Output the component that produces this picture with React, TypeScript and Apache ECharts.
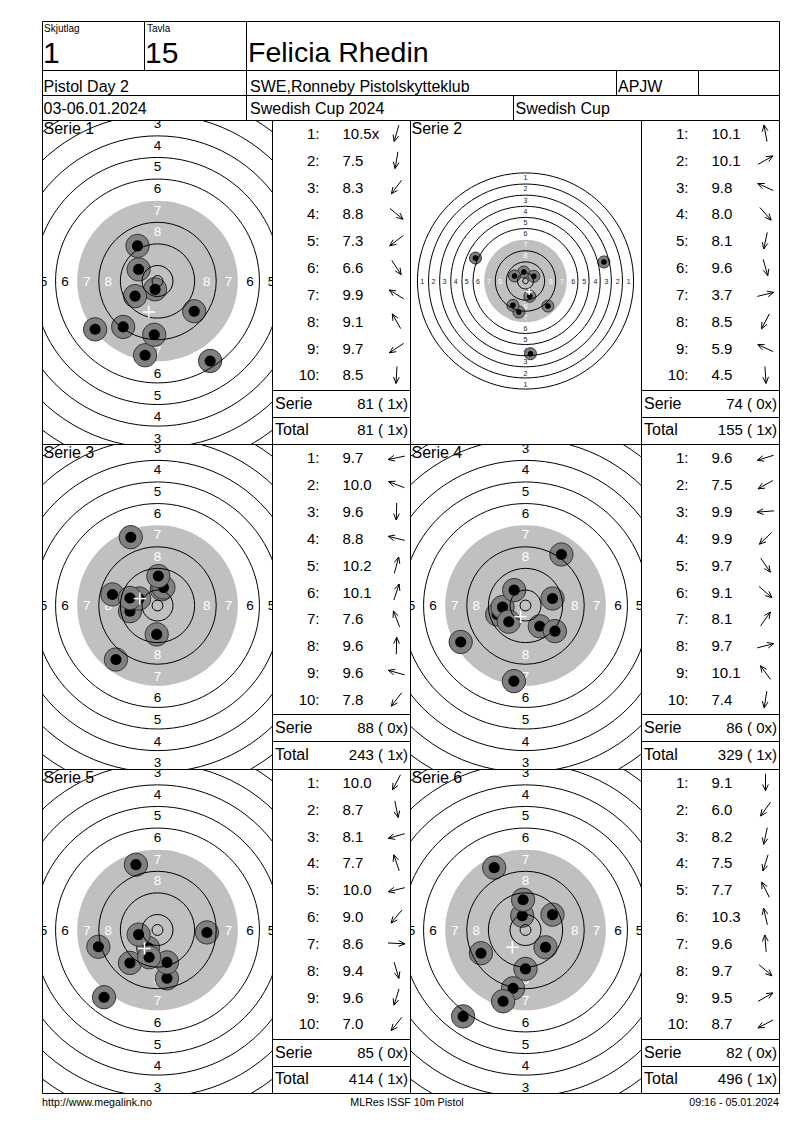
import React, { useEffect, useRef } from "react";
import * as echarts from "echarts";

const FONT = '"Liberation Sans", Arial, sans-serif';

// ---------- header texts ----------
const SQUAD_LABEL = "Skjutlag";
const SQUAD = "1";
const TARGET_LABEL = "Tavla";
const TARGET_NO = "15";
const SHOOTER = "Felicia Rhedin";
const EVENT = "Pistol Day 2";
const CLUB = "SWE,Ronneby Pistolskytteklub";
const CLASS_CODE = "APJW";
const DATES = "03-06.01.2024";
const COMPETITION = "Swedish Cup 2024";
const CUP = "Swedish Cup";
const FOOTER_LEFT = "http://www.megalink.no";
const FOOTER_MID = "MLRes ISSF 10m Pistol";
const FOOTER_RIGHT = "09:16 - 05.01.2024";

// ---------- series data ----------
const SERIES_NAMES = ["Serie 1", "Serie 2", "Serie 3", "Serie 4", "Serie 5", "Serie 6"];

const SCORES_1 = [10.5, 7.5, 8.3, 8.8, 7.3, 6.6, 9.9, 9.1, 9.7, 8.5];
const SCORES_2 = [10.1, 10.1, 9.8, 8.0, 8.1, 9.6, 3.7, 8.5, 5.9, 4.5];
const SCORES_3 = [9.7, 10.0, 9.6, 8.8, 10.2, 10.1, 7.6, 9.6, 9.6, 7.8];
const SCORES_4 = [9.6, 7.5, 9.9, 9.9, 9.7, 9.1, 8.1, 9.7, 10.1, 7.4];
const SCORES_5 = [10.0, 8.7, 8.1, 7.7, 10.0, 9.0, 8.6, 9.4, 9.6, 7.0];
const SCORES_6 = [9.1, 6.0, 8.2, 7.5, 7.7, 10.3, 9.6, 9.7, 9.5, 8.7];
const SCORES = [SCORES_1, SCORES_2, SCORES_3, SCORES_4, SCORES_5, SCORES_6];

// shot numbers (1-based) marked as inner tens
const INNER_TENS = [[1], [], [], [], [], []];

// shot hole positions in mm from the target centre (x right, y up)
const SHOTS_1 = [[-0.9, -3.1], [-4.6, -27.5], [-12.7, -17.0], [13.6, -11.2], [-23.1, -17.9], [19.5, -29.6], [-7.0, 4.3], [-7.4, 13.0], [-8.3, -5.6], [-1.2, -19.9]];
const SHOTS_2 = [[-1.2, 6.5], [6.0, 3.4], [-7.9, 3.6], [16.1, -18.0], [-4.8, -22.3], [3.1, -11.0], [56.4, 13.7], [-9.1, -17.5], [-36.0, 16.5], [3.6, -52.3]];
const SHOTS_3 = [[-10.2, -2.1], [-6.8, 2.6], [-0.3, -10.7], [-16.7, 4.1], [1.6, 6.0], [2.2, 6.7], [-9.9, 25.3], [0.3, 10.9], [-10.2, 2.8], [-15.4, -20.0]];
const SHOTS_4 = [[-10.5, -3.3], [-24.0, -13.5], [-8.5, -0.6], [-6.2, -6.0], [5.3, -7.7], [10.9, -9.5], [13.3, 18.9], [10.0, 2.6], [-4.2, 5.7], [-4.3, -28.0]];
const SHOTS_5 = [[-3.5, -6.6], [3.5, -17.9], [-21.9, -6.2], [-8.0, 24.2], [-7.0, -1.7], [-10.2, -12.2], [18.3, -0.9], [3.5, -12.0], [-3.1, -10.1], [-19.8, -24.9]];
const SHOTS_6 = [[0.0, -14.4], [-23.1, -32.0], [-4.6, -21.6], [-8.3, -26.4], [-11.6, 23.1], [-1.2, 5.3], [-0.9, 11.2], [7.4, -6.4], [10.0, 5.7], [-16.5, -8.6]];
const SHOTS = [SHOTS_1, SHOTS_2, SHOTS_3, SHOTS_4, SHOTS_5, SHOTS_6];

const SERIE_SUMS = [81, 74, 88, 86, 85, 82];
const SERIE_X = [1, 0, 0, 0, 0, 0];
const TOTAL_SUMS = [81, 155, 243, 329, 414, 496];
const TOTAL_X = [1, 1, 1, 1, 1, 1];

// ISSF 10 m pistol target, ring radii (mm) for rings 1..10
const RING_RADII_MM = [77.75, 69.75, 61.75, 53.75, 45.75, 37.75, 29.75, 21.75, 13.75, 5.75];
const INNER_TEN_MM = 2.0;
const RING_LABELS = [1, 2, 3, 4, 5, 6, 7, 8];
const LABEL_INSET_MM = 3.5;
const SHOT_OUTER_MM = 4.3;
const SHOT_INNER_MM = 2.05;

// ---------- layout ----------
const COLS = [
  { tL: 42.5, tR: 272.5, lR: 410.5 },
  { tL: 410.5, tR: 641.5, lR: 779.5 },
];
const ROW_TOPS = [120, 444.5, 769];
const ROW_H = 324.5;
const PX_PER_MM = [2.7, 1.39, 2.7, 2.7, 2.7, 2.7];

function buildOption() {
  const grid: any[] = [];
  const xAxis: any[] = [];
  const yAxis: any[] = [];
  const series: any[] = [];
  const graphic: any[] = [];

  const crisp = (v: number) => Math.floor(v) + 0.5;
  const line = (x1: number, y1: number, x2: number, y2: number) =>
    graphic.push({
      type: "line",
      z: 50,
      silent: true,
      shape: { x1: crisp(x1), y1: crisp(y1), x2: crisp(x2), y2: crisp(y2) },
      style: { stroke: "#000", lineWidth: 1 },
    });
  const text = (x: number, y: number, t: string, size: number, align = "left", color = "#000") =>
    graphic.push({
      type: "text",
      z: 60,
      silent: true,
      x,
      y,
      style: {
        text: t,
        fill: color,
        font: `${size}px ${FONT}`,
        align,
        verticalAlign: "middle",
        textAlign: align,
        textVerticalAlign: "middle",
      },
    });

  // ---------- frame ----------
  const L = 42.5, R = 779.5, TOP = 21, BOTTOM = 1093.5;
  line(L, TOP, R, TOP);
  line(L, BOTTOM, R, BOTTOM);
  line(L, TOP, L, BOTTOM);
  line(R, TOP, R, BOTTOM);
  line(L, 70, R, 70);
  line(L, 95, R, 95);
  line(L, 120, R, 120);
  line(144, TOP, 144, 70);
  line(246, TOP, 246, 120);
  line(616, 70, 616, 95);
  line(698, 70, 698, 95);
  line(513, 95, 513, 120);
  line(272, 120, 272, BOTTOM);
  line(410, 120, 410, BOTTOM);
  line(641, 120, 641, BOTTOM);
  line(L, 444.5, R, 444.5);
  line(L, 769, R, 769);

  // header texts
  text(44, 28, SQUAD_LABEL, 10);
  text(147, 28, TARGET_LABEL, 10);
  text(43, 52, SQUAD, 30);
  text(145, 52, TARGET_NO, 30);
  text(248, 52, SHOOTER, 28.5);
  text(43.5, 86.3, EVENT, 16);
  text(250, 86.3, CLUB, 16);
  text(618, 86.3, CLASS_CODE, 16);
  text(43.5, 108.2, DATES, 16);
  text(250, 108.2, COMPETITION, 16);
  text(515.5, 108.2, CUP, 16);

  // footer
  text(42, 1102, FOOTER_LEFT, 10.7);
  text(407, 1102, FOOTER_MID, 10.7, "center");
  text(779, 1102, FOOTER_RIGHT, 10.7, "right");

  for (let i = 0; i < 6; i++) {
    const col = i % 2;
    const row = Math.floor(i / 2);
    const c = COLS[col];
    const T = ROW_TOPS[row];
    const s = PX_PER_MM[i];
    const cx = c.tL + 115;
    const cy = T + 161;
    const small = i === 1;
    const xMin = -(cx - c.tL) / s, xMax = (c.tR - cx) / s;
    const yMin = -(T + ROW_H - cy) / s, yMax = (cy - T) / s;

    grid.push({ left: c.tL, top: T, width: c.tR - c.tL, height: ROW_H, containLabel: false });
    xAxis.push({ type: "value", gridIndex: i, min: xMin, max: xMax, show: false, splitLine: { show: false } });
    yAxis.push({ type: "value", gridIndex: i, min: yMin, max: yMax, show: false, splitLine: { show: false } });

    const common = { type: "custom", xAxisIndex: i, yAxisIndex: i, clip: true, silent: true, animation: false };

    // grey aiming disc (ring 7)
    series.push({
      ...common,
      z: 1,
      data: [[0, 0, RING_RADII_MM[6]]],
      renderItem: (_p: any, api: any) => {
        const p = api.coord([0, 0]);
        const r = api.size([api.value(2), 0])[0];
        return { type: "circle", shape: { cx: p[0], cy: p[1], r }, style: { fill: "#c0c0c0" } };
      },
    });

    // ring numbers (only those that fall inside the panel)
    const margin = 6 / s;
    const labelData: number[][] = [];
    RING_LABELS.forEach((n) => {
      const rr = RING_RADII_MM[n - 1] - LABEL_INSET_MM;
      [[0, 1], [0, -1], [-1, 0], [1, 0]].forEach(([dx, dy]) => {
        const lx = dx * rr, ly = dy * rr;
        if (lx >= xMin - margin && lx <= xMax + margin && ly >= yMin - margin && ly <= yMax + margin) {
          labelData.push([lx, ly, n]);
        }
      });
    });
    series.push({
      ...common,
      z: 2,
      data: labelData,
      renderItem: (_p: any, api: any) => {
        const p = api.coord([api.value(0), api.value(1)]);
        const n = api.value(2);
        return {
          type: "text",
          x: p[0],
          y: p[1],
          style: {
            text: String(n),
            fill: n >= 7 ? "#ffffff" : small ? "#222" : "#000",
            font: `${small ? 7 : 13.5}px ${FONT}`,
            align: "center",
            verticalAlign: "middle",
          },
        };
      },
    });

    // shots
    series.push({
      ...common,
      z: 3,
      data: SHOTS[i],
      renderItem: (_p: any, api: any) => {
        const p = api.coord([api.value(0), api.value(1)]);
        const ro = api.size([SHOT_OUTER_MM, 0])[0];
        const ri = api.size([SHOT_INNER_MM, 0])[0];
        return {
          type: "group",
          children: [
            { type: "circle", shape: { cx: p[0], cy: p[1], r: ro }, style: { fill: "#808080", stroke: "#333", lineWidth: 1 } },
            { type: "circle", shape: { cx: p[0], cy: p[1], r: ri }, style: { fill: "#000" } },
          ],
        };
      },
    });

    // ring lines
    const ringData = RING_RADII_MM.filter((_, k) => k !== 6)
      .concat([INNER_TEN_MM])
      .map((r) => [0, 0, r]);
    series.push({
      ...common,
      z: 4,
      data: ringData,
      renderItem: (_p: any, api: any) => {
        const p = api.coord([0, 0]);
        const r = api.size([api.value(2), 0])[0];
        return { type: "circle", shape: { cx: p[0], cy: p[1], r }, style: { fill: "none", stroke: "#000", lineWidth: 1 } };
      },
    });

    // mean point of impact
    const mx = SHOTS[i].reduce((a, v) => a + v[0], 0) / SHOTS[i].length;
    const my = SHOTS[i].reduce((a, v) => a + v[1], 0) / SHOTS[i].length;
    series.push({
      ...common,
      z: 5,
      data: [[mx, my]],
      renderItem: (_p: any, api: any) => {
        const p = api.coord([api.value(0), api.value(1)]);
        const a = api.size([2.3, 0])[0];
        const st = { stroke: "#fff", lineWidth: 1.5 };
        return {
          type: "group",
          children: [
            { type: "line", shape: { x1: p[0] - a, y1: p[1], x2: p[0] + a, y2: p[1] }, style: st },
            { type: "line", shape: { x1: p[0], y1: p[1] - a, x2: p[0], y2: p[1] + a }, style: st },
          ],
        };
      },
    });

    // serie title
    text(c.tL + 1, T + 8.3, SERIES_NAMES[i], 16);

    // shot list
    const LL = c.tR;
    const RR = c.lR;
    SCORES[i].forEach((sc, k) => {
      const y = T + 13.3 + 26.85 * k;
      const isX = INNER_TENS[i].includes(k + 1);
      text(LL + 47, y, `${k + 1}:`, 15, "right");
      text(LL + 70, y, sc.toFixed(1) + (isX ? "x" : ""), 15);
      // direction arrow
      const [sx0, sy0] = SHOTS[i][k];
      const ang = Math.atan2(-sy0, sx0);
      const ux = Math.cos(ang), uy = Math.sin(ang);
      const acx = RR - 14, len = 17;
      const tx = acx + (ux * len) / 2, ty = y + (uy * len) / 2;
      const bx = acx - (ux * len) / 2, by = y - (uy * len) / 2;
      const back = ang + Math.PI, h = 7, w = 0.42;
      graphic.push({
        type: "line", z: 55, silent: true,
        shape: { x1: bx, y1: by, x2: tx, y2: ty },
        style: { stroke: "#000", lineWidth: 1 },
      });
      graphic.push({
        type: "polyline", z: 55, silent: true,
        shape: {
          points: [
            [tx + h * Math.cos(back - w), ty + h * Math.sin(back - w)],
            [tx, ty],
            [tx + h * Math.cos(back + w), ty + h * Math.sin(back + w)],
          ],
        },
        style: { stroke: "#000", lineWidth: 1, fill: "none" },
      });
    });
    line(LL, T + 270, RR, T + 270);
    line(LL, T + 297, RR, T + 297);
    text(LL + 2.5, T + 283.3, "Serie", 16);
    text(RR - 2.5, T + 283.3, `${SERIE_SUMS[i]} ( ${SERIE_X[i]}x)`, 15, "right");
    text(LL + 2.5, T + 309.5, "Total", 16);
    text(RR - 2.5, T + 309.5, `${TOTAL_SUMS[i]} ( ${TOTAL_X[i]}x)`, 15, "right");
  }

  return {
    animation: false,
    backgroundColor: "#ffffff",
    grid,
    xAxis,
    yAxis,
    series,
    graphic: { elements: graphic },
  };
}

export default function App() {
  const ref = useRef<HTMLDivElement>(null);
  useEffect(() => {
    if (!ref.current) return;
    const chart = echarts.init(ref.current, null, { renderer: "svg" });
    chart.setOption(buildOption() as any);
    return () => chart.dispose();
  }, []);
  return (
    <div
      ref={ref}
      style={{ position: "absolute", left: 0, top: 0, width: 800, height: 1130, background: "#fff" }}
    />
  );
}
